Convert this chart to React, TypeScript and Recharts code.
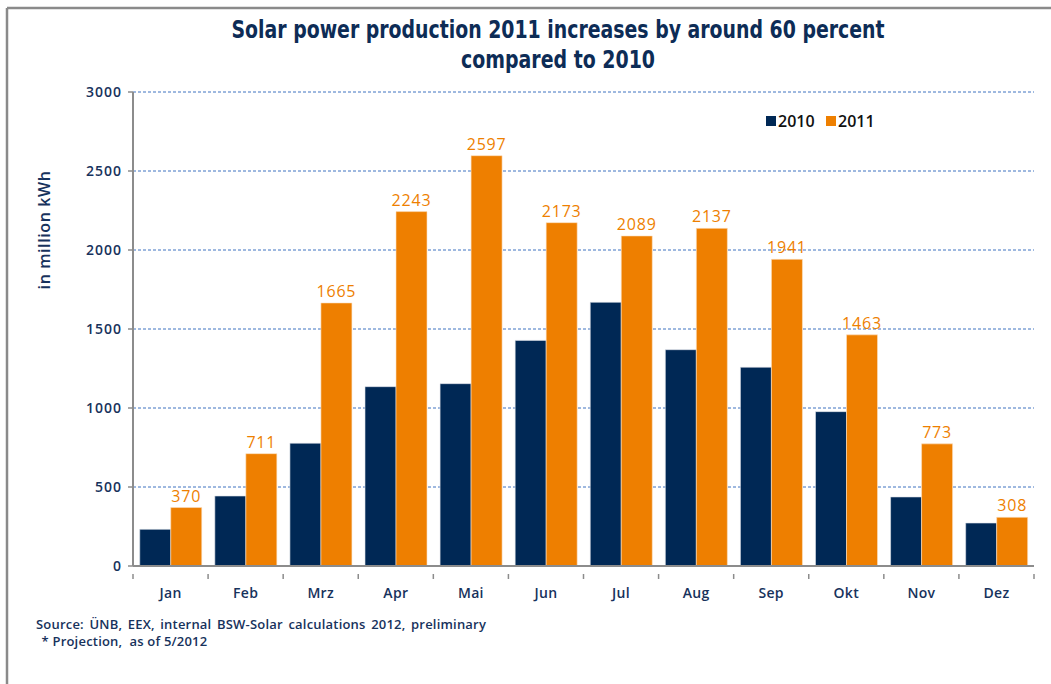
import React from 'react';
import { BarChart, Bar, XAxis, YAxis, CartesianGrid, LabelList } from 'recharts';

const months = ['Jan', 'Feb', 'Mrz', 'Apr', 'Mai', 'Jun', 'Jul', 'Aug', 'Sep', 'Okt', 'Nov', 'Dez'];
const values2010 = [232, 443, 777, 1135, 1154, 1428, 1669, 1369, 1258, 977, 437, 272];
const values2011 = [370, 711, 1665, 2243, 2597, 2173, 2089, 2137, 1941, 1463, 773, 308];
const yTicks = [0, 500, 1000, 1500, 2000, 2500, 3000];
const seriesNames = ['2010', '2011'];

const data = months.map((m, i) => ({ month: m, y2010: values2010[i], y2011: values2011[i] }));

const NAVY = '#002855';
const ORANGE = '#ee7f00';
const TEXT = '#17325c';
const FONT = '"Open Sans", "Noto Sans", "DejaVu Sans", sans-serif';

const XTick = (props: any) => {
  const { x, y, payload, index } = props;
  const off = payload.offset || 0;
  return (
    <g>
      <line x1={x - off} x2={x - off} y1={y} y2={y + 5} stroke="#8c8c8c" strokeWidth={1.5} />
      {index === months.length - 1 && (
        <line x1={x + off} x2={x + off} y1={y} y2={y + 5} stroke="#8c8c8c" strokeWidth={1.5} />
      )}
      <text x={x} y={y + 24} textAnchor="middle" fill={TEXT} fontSize={14} fontWeight={600} fontFamily={FONT} letterSpacing={0.3}>
        {payload.value}
      </text>
    </g>
  );
};

const YTick = (props: any) => {
  const { x, y, payload } = props;
  return (
    <text x={x} y={y + 5} textAnchor="end" fill={TEXT} fontSize={14} fontWeight={600} fontFamily={FONT} letterSpacing={1}>
      {payload.value}
    </text>
  );
};

export default function App() {
  return (
    <div style={{ position: 'absolute', left: 0, top: 0, width: 1051, height: 684, background: '#fff' }}>
      <BarChart
        width={1051}
        height={684}
        data={data}
        margin={{ top: 92, right: 17, bottom: 88, left: 73 }}
        barCategoryGap="9%"
        barGap={0}
      >
        <CartesianGrid horizontal vertical={false} stroke="#3f72c0" strokeDasharray="3 2" strokeWidth={1} />
        <XAxis
          dataKey="month"
          height={30}
          tick={<XTick />}
          tickLine={false}
          axisLine={{ stroke: '#8c8c8c', strokeWidth: 2 }}
          interval={0}
        />
        <YAxis
          width={60}
          domain={[0, 3000]}
          ticks={yTicks}
          tick={<YTick />}
          tickSize={5}
          tickMargin={6}
          tickLine={{ stroke: '#8c8c8c', strokeWidth: 1.5 }}
          axisLine={{ stroke: '#8c8c8c', strokeWidth: 2 }}
          interval={0}
        />
        <Bar dataKey="y2010" name={seriesNames[0]} fill={NAVY} stroke="#dfe3ea" strokeWidth={0.6} isAnimationActive={false} />
        <Bar dataKey="y2011" name={seriesNames[1]} fill={ORANGE} stroke="#fbe0c2" strokeWidth={0.6} isAnimationActive={false}>
          <LabelList dataKey="y2011" position="top" offset={6} fill={ORANGE} fontSize={16} fontFamily={FONT} letterSpacing={0.8} />
        </Bar>
      </BarChart>
      <svg width={1051} height={684} style={{ position: 'absolute', left: 0, top: 0, pointerEvents: 'none' }}>
        <line x1={7} y1={8} x2={1051} y2={8} stroke="#8a8a8a" strokeWidth={2.5} />
        <line x1={7} y1={8} x2={7} y2={684} stroke="#8a8a8a" strokeWidth={2.5} />
        <text x={558} y={38} textAnchor="middle" fill="#0d2c56" fontSize={25} fontWeight="bold"
          fontFamily='"Liberation Sans Narrow", "DejaVu Sans Condensed", "Open Sans", sans-serif'
          textLength={653} lengthAdjust="spacingAndGlyphs">
          Solar power production 2011 increases by around 60 percent
        </text>
        <text x={558} y={68} textAnchor="middle" fill="#0d2c56" fontSize={25} fontWeight="bold"
          fontFamily='"Liberation Sans Narrow", "DejaVu Sans Condensed", "Open Sans", sans-serif'
          textLength={194} lengthAdjust="spacingAndGlyphs">
          compared to 2010
        </text>
        <text x={0} y={0} transform="translate(50 230) rotate(-90)" textAnchor="middle" fill={TEXT} fontSize={16} fontWeight={600} fontFamily={FONT} letterSpacing={0.6}>
          in million kWh
        </text>
        <rect x={766} y={116} width={10} height={10} fill={NAVY} />
        <text x={778} y={127} fill="#111" fontSize={16} fontWeight={600} fontFamily={FONT}>{seriesNames[0]}</text>
        <rect x={826} y={116} width={10} height={10} fill={ORANGE} />
        <text x={838} y={127} fill="#111" fontSize={16} fontWeight={600} fontFamily={FONT}>{seriesNames[1]}</text>
        <text x={36} y={629} fill={TEXT} fontSize={13} fontWeight={600} fontFamily={FONT} wordSpacing={2} letterSpacing={0.2}>
          Source: ÜNB, EEX, internal BSW-Solar calculations 2012, preliminary
        </text>
        <text x={38} y={646} fill={TEXT} fontSize={13} fontWeight={600} fontFamily={FONT} xmlSpace="preserve" letterSpacing={0.2}>
          {' * Projection,  as of 5/2012'}
        </text>
      </svg>
    </div>
  );
}
